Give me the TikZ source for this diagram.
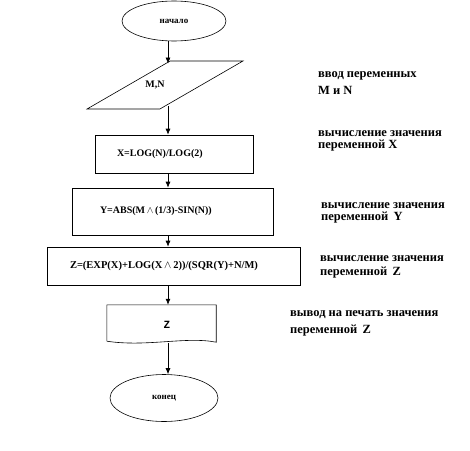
\documentclass[tikz,border=0pt]{standalone}
\usepackage{fontspec}
\setmainfont{Liberation Serif}
\newfontfamily\monofont{Liberation Mono}
\usepackage{tikz}
\usetikzlibrary{arrows.meta, shapes.geometric}

\begin{document}
\begin{tikzpicture}[x=1pt, y=-1pt]
    % --- GLOBAL DEFINITIONS ---
    \def\axisx{168} % x of the vertical flow line

    \tikzset{
        flowline/.style={-{Latex[length=6pt, width=5pt]}, line width=0.7pt},
        terminal/.style={ellipse, draw, line width=0.6pt, inner sep=0pt, font=\bfseries\fontsize{9}{9}\selectfont},
        inputbox/.style={trapezium, trapezium stretches=true, trapezium left angle=50, trapezium right angle=130,
            draw, line width=0.6pt, minimum width=156pt, minimum height=48pt, inner sep=0pt, font=\bfseries\fontsize{10}{10}\selectfont},
        procbox/.style={rectangle, draw, line width=0.6pt, align=left, inner ysep=0pt, font=\bfseries\fontsize{10}{10}\selectfont},
        docbox/.style={rectangle, minimum width=109pt, minimum height=39pt, inner sep=0pt, font=\monofont\bfseries\fontsize{11}{11}\selectfont},
        note/.style={anchor=west, align=left, inner sep=0pt, font=\bfseries\fontsize{12.5}{12}\selectfont}
    }

    \useasboundingbox (0,0) rectangle (470,450);
    \coordinate (axis) at (\axisx,0);

    % FLOW SHAPES
    \node[terminal, minimum width=104pt, minimum height=40pt] (start) at (174,21) {начало};
    \node[inputbox] (input) at (165,85) {\hspace*{-20pt}M,N};
    \node[procbox, minimum width=158pt, minimum height=38pt, inner xsep=22pt, text width=114pt] (calcx) at (174,154) {X=LOG(N)/LOG(2)};
    \node[procbox, minimum width=201pt, minimum height=47pt, inner xsep=28pt, text width=145pt] (calcy) at (172.5,211.5) {Y=ABS(M\,$\wedge$\,(1/3)-SIN(N))};
    \node[procbox, minimum width=253pt, minimum height=38pt, inner xsep=23pt, text width=207pt, font=\bfseries\fontsize{10.5}{10.5}\selectfont] (calcz) at (173.5,266) {Z=(EXP(X)+LOG(X\,$\wedge$\,2))/(SQR(Y)+N/M)};
    \node[docbox] (output) at (161.5,324.5) {\hspace*{11pt}Z};
    \draw[line width=0.6pt] ([yshift=3pt]output.south west) -- (output.north west) -- (output.north east) -- ([yshift=2pt]output.south east)
        .. controls +(-30,-6) and +(40,6) .. ([yshift=3pt]output.south west);
    \node[terminal, minimum width=108pt, minimum height=47pt] (stop) at (164,398) {конец};

    % CONNECTORS
    \draw[flowline] (start.south -| axis) -- (input.north -| axis);
    \draw[flowline] (input.south -| axis) -- (calcx.north -| axis);
    \draw[flowline] (calcx.south -| axis) -- (calcy.north -| axis);
    \draw[flowline] (calcy.south -| axis) -- (calcz.north -| axis);
    \draw[flowline] (calcz.south -| axis) -- (output.north -| axis);
    \draw[flowline] ([yshift=1pt]output.south -| axis) -- (stop.north -| axis);

    % COMMENTS ON THE RIGHT
    \node[note] (notein) at (318,83) {ввод переменных\\[5pt] M и N};
    \node[note] (notex) at (318,141) {вычисление значения\\ переменной X};
    \node[note] (notey) at (321,212.5) {вычисление значения\\ переменной\, Y};
    \node[note] (notez) at (320,267) {вычисление значения\\[2pt] переменной\, Z};
    \node[note] (noteout) at (290,323.5) {вывод на печать значения\\[5pt] переменной\, Z};
\end{tikzpicture}
\end{document}
